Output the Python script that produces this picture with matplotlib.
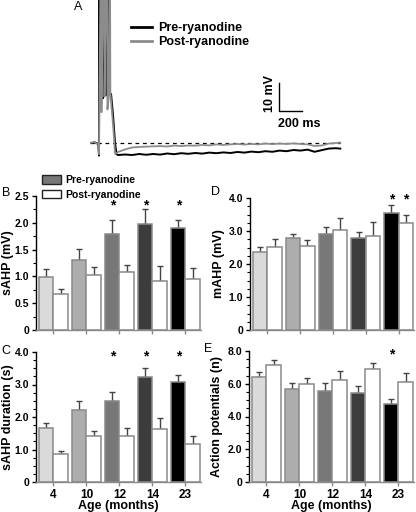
import matplotlib
matplotlib.use('Agg')
import matplotlib.pyplot as plt
from matplotlib.patches import Patch
from matplotlib.lines import Line2D
from matplotlib.ticker import MultipleLocator

plt.rcParams['font.family'] = ['Liberation Sans', 'DejaVu Sans']

W, H = 416, 512

# ---------------- data ----------------
ages = ['4', '10', '12', '14', '23']
pre_colors = ['#dadada', '#adadad', '#787878', '#3c3c3c', '#000000']
post_color = '#ffffff'

sahp_pre = [0.98, 1.30, 1.80, 1.97, 1.91]
sahp_pre_err = [0.15, 0.22, 0.25, 0.28, 0.15]
sahp_post = [0.68, 1.03, 1.08, 0.91, 0.96]
sahp_post_err = [0.08, 0.14, 0.13, 0.28, 0.19]
sahp_pre_sig = [0, 0, 1, 1, 1]
sahp_post_sig = [0, 0, 0, 0, 0]

dur_pre = [1.66, 2.21, 2.50, 3.23, 3.09]
dur_pre_err = [0.17, 0.27, 0.28, 0.28, 0.20]
dur_post = [0.85, 1.43, 1.41, 1.62, 1.17]
dur_post_err = [0.10, 0.14, 0.25, 0.34, 0.24]
dur_pre_sig = [0, 0, 1, 1, 1]
dur_post_sig = [0, 0, 0, 0, 0]

mahp_pre = [2.35, 2.80, 2.90, 2.80, 3.55]
mahp_pre_err = [0.17, 0.10, 0.22, 0.17, 0.23]
mahp_post = [2.52, 2.55, 3.03, 2.85, 3.24]
mahp_post_err = [0.24, 0.17, 0.37, 0.41, 0.24]
mahp_pre_sig = [0, 0, 0, 0, 1]
mahp_post_sig = [0, 0, 0, 0, 1]

ap_pre = [6.44, 5.69, 5.54, 5.46, 4.77]
ap_pre_err = [0.30, 0.34, 0.49, 0.41, 0.27]
ap_post = [7.13, 5.99, 6.23, 6.90, 6.09]
ap_post_err = [0.30, 0.39, 0.55, 0.35, 0.55]
ap_pre_sig = [0, 0, 0, 0, 1]
ap_post_sig = [0, 0, 0, 0, 0]

# Panel A traces (time in ms, membrane potential in mV)
baseline_mv = -60.0
pre_t = [0, 30, 60, 70, 77, 81, 85, 107, 111, 133, 137, 158, 162, 180, 197, 214, 227,
         240, 300, 360, 420, 480, 540, 600, 660, 720, 780, 840, 900, 960, 1020, 1080,
         1140, 1200, 1260, 1320, 1380, 1440, 1500, 1560, 1620, 1680, 1740, 1800, 1860,
         1920, 1980, 2040, 2100, 2140]
pre_v = [-60.0, -59.9, -60.0, -60.0, -64.5, 20.0, -45.0, 20.0, -44.0, 20.0, -43.0, 20.0, -42.0,
         -42.5, -50.0, -60.0, -64.0,
         -64.29, -64.11, -64.29, -63.93, -64.2, -63.93, -64.14, -63.75, -64.0, -63.64, -63.86,
         -63.57, -63.79, -63.43, -63.64, -63.36, -63.57, -63.21, -63.43, -63.07, -63.29, -62.93,
         -63.14, -62.71, -62.93, -62.5, -62.71, -62.36, -63.14, -62.57, -62.0, -61.86, -62.0]
post_t = [0, 25, 40, 55, 70, 77, 94, 98, 120, 124, 145, 149, 160, 170, 174, 200, 214, 228,
          240, 300, 360, 420, 480, 540, 600, 660, 720, 780, 840, 900, 960, 1020, 1080,
          1140, 1200, 1260, 1320, 1380, 1440, 1500, 1560, 1620, 1680, 1740, 1800, 1860,
          1920, 1980, 2040, 2100, 2140]
post_v = [-60.0, -59.8, -59.5, -60.3, -60.0, -64.0, 20.0, -49.0, 20.0, -43.5, 20.0, -48.0,
          -44.0, 20.0, -42.0, -55.0, -63.9, -63.6,
          -63.2, -62.3, -61.6, -61.4, -61.3, -61.2, -61.1, -61.25, -60.9, -61.1, -60.9, -60.95,
          -60.7, -60.85, -60.5, -60.7, -60.5, -60.35, -60.55, -60.35, -60.5, -60.2, -60.4,
          -60.2, -60.35, -60.15, -60.35, -60.5, -61.05, -60.9, -60.2, -60.0, -59.85]

# ---------------- helpers ----------------
def rect(l, t, r, b):
    return [l / W, 1 - b / H, (r - l) / W, (b - t) / H]

fig = plt.figure(figsize=(W / 100, H / 100), dpi=100)

def ftext(x, y, s, **kw):
    fig.text(x / W, 1 - y / H, s, **kw)

# ---------------- Panel A ----------------
axA = fig.add_axes(rect(90, 0, 345, 165))
axA.set_xlim(0, 255 * 8.55)
axA.set_ylim(-60 - 22 / 2.8, -60 + 143 / 2.8)
axA.axis('off')
axA.plot([0, 250 * 8.55], [baseline_mv, baseline_mv], color='black', lw=0.9,
         dashes=(3, 3))
axA.plot(pre_t, pre_v, color='black', lw=1.4)
axA.plot(post_t, post_v, color='#8c8c8c', lw=1.3)
# scale bar (10 mV, 200 ms)
sb_t0, sb_v0 = 1612, -48.5
axA.plot([sb_t0, sb_t0, sb_t0 + 200], [sb_v0 + 10, sb_v0, sb_v0], color='black', lw=1)
ftext(270, 94, '10 mV', rotation=90, ha='center', va='center', fontsize=9, fontweight='bold')
ftext(278, 124, '200 ms', ha='left', va='center', fontsize=9, fontweight='bold')
fig.legend(handles=[Line2D([], [], color='black', lw=2),
                    Line2D([], [], color='#8c8c8c', lw=2)],
           labels=['Pre-ryanodine', 'Post-ryanodine'],
           loc='upper left', bbox_to_anchor=(131 / W, 1 - 22 / H), frameon=False,
           borderpad=0, borderaxespad=0, handlelength=1.7, handletextpad=0.45,
           labelspacing=0.2, prop={'size': 9, 'weight': 'bold'})
ftext(78, 7, 'A', ha='center', va='center', fontsize=9)

# ---------------- bar panels ----------------
x = list(range(len(ages)))
bw = 0.44

def bar_panel(r, pre, pre_e, post, post_e, pre_sig, post_sig, ymax, major, minor,
              ylabel, star_y, xlabels, letter, letter_xy, ylabel_x):
    ax = fig.add_axes(rect(*r))
    xp = [i - bw / 2 for i in x]
    xq = [i + bw / 2 for i in x]
    ax.bar(xp, pre, bw, color=pre_colors, edgecolor='#8a8a8a', lw=1.1, zorder=2)
    ax.bar(xq, post, bw, color=post_color, edgecolor='#8a8a8a', lw=1.1, zorder=2)
    ax.errorbar(xp, pre, yerr=[[0] * 5, pre_e], fmt='none', ecolor='#444444',
                elinewidth=1, capsize=2, capthick=1, zorder=1)
    ax.errorbar(xq, post, yerr=[[0] * 5, post_e], fmt='none', ecolor='#444444',
                elinewidth=1, capsize=2, capthick=1, zorder=1)
    for i in x:
        if pre_sig[i]:
            ax.text(xp[i], star_y, '*', ha='center', va='baseline', fontsize=10,
                    fontweight='bold', clip_on=False)
        if post_sig[i]:
            ax.text(xq[i], star_y, '*', ha='center', va='baseline', fontsize=10,
                    fontweight='bold', clip_on=False)
    ax.set_xlim(-0.53, 4.47)
    ax.set_ylim(0, ymax)
    for s in ['top', 'right']:
        ax.spines[s].set_visible(False)
    ax.spines['left'].set_color('black')
    ax.spines['left'].set_linewidth(1)
    ax.spines['bottom'].set_color('#8a8a8a')
    ax.spines['bottom'].set_linewidth(1)
    ax.yaxis.set_minor_locator(MultipleLocator(minor))
    ticks = [i * major for i in range(int(round(ymax / major)) + 1)]
    ax.set_yticks(ticks)
    ax.set_yticklabels(['0'] + ['%.1f' % t for t in ticks[1:]], fontsize=7.5,
                       fontweight='bold')
    ax.tick_params(axis='y', which='major', length=3, width=1, pad=2, direction='out')
    ax.tick_params(axis='y', which='minor', length=2, width=0.8, direction='out')
    ax.set_xticks(x)
    ax.tick_params(axis='x', length=3, width=1, color='#8a8a8a', pad=2)
    if xlabels:
        ax.set_xticklabels(ages, fontsize=8.5, fontweight='bold')
        ax.set_xlabel('Age (months)', fontsize=9, fontweight='bold', labelpad=-0.5)
    else:
        ax.set_xticklabels([])
    ax.set_ylabel(ylabel, fontsize=9, fontweight='bold')
    ax.yaxis.set_label_coords((ylabel_x + 5 - r[0]) / (r[2] - r[0]), 0.5)
    ftext(letter_xy[0], letter_xy[1], letter, ha='center', va='center', fontsize=9)
    return ax

axB = bar_panel((36, 196, 201, 330), sahp_pre, sahp_pre_err, sahp_post, sahp_post_err,
                sahp_pre_sig, sahp_post_sig, 2.5, 0.5, 0.25, 'sAHP (mV)', 2.24, False,
                'B', (6, 193), 9)
axC = bar_panel((36, 352, 201, 482), dur_pre, dur_pre_err, dur_post, dur_post_err,
                dur_pre_sig, dur_post_sig, 4.0, 1.0, 0.25, 'sAHP duration (s)', 3.75, True,
                'C', (6, 351), 9)
axD = bar_panel((250, 198, 414, 330), mahp_pre, mahp_pre_err, mahp_post, mahp_post_err,
                mahp_pre_sig, mahp_post_sig, 4.0, 1.0, 0.25, 'mAHP (mV)', 3.82, False,
                'D', (215, 192), 220)
axE = bar_panel((249, 351, 414, 482), ap_pre, ap_pre_err, ap_post, ap_post_err,
                ap_pre_sig, ap_post_sig, 8.0, 2.0, 0.5, 'Action potentials (n)', 7.57, True,
                'E', (208, 349), 218)

axB.legend(handles=[Patch(facecolor='#787878', edgecolor='#222222', lw=1),
                    Patch(facecolor='white', edgecolor='#222222', lw=1)],
           labels=['Pre-ryanodine', 'Post-ryanodine'],
           loc='upper left', bbox_to_anchor=(42 / W, 1 - 175 / H),
           bbox_transform=fig.transFigure, frameon=False, borderpad=0, borderaxespad=0,
           handlelength=1.83, handleheight=0.87, handletextpad=0.45, labelspacing=0.45,
           prop={'size': 7.5, 'weight': 'bold'})

fig.savefig('out.png', dpi=100)
